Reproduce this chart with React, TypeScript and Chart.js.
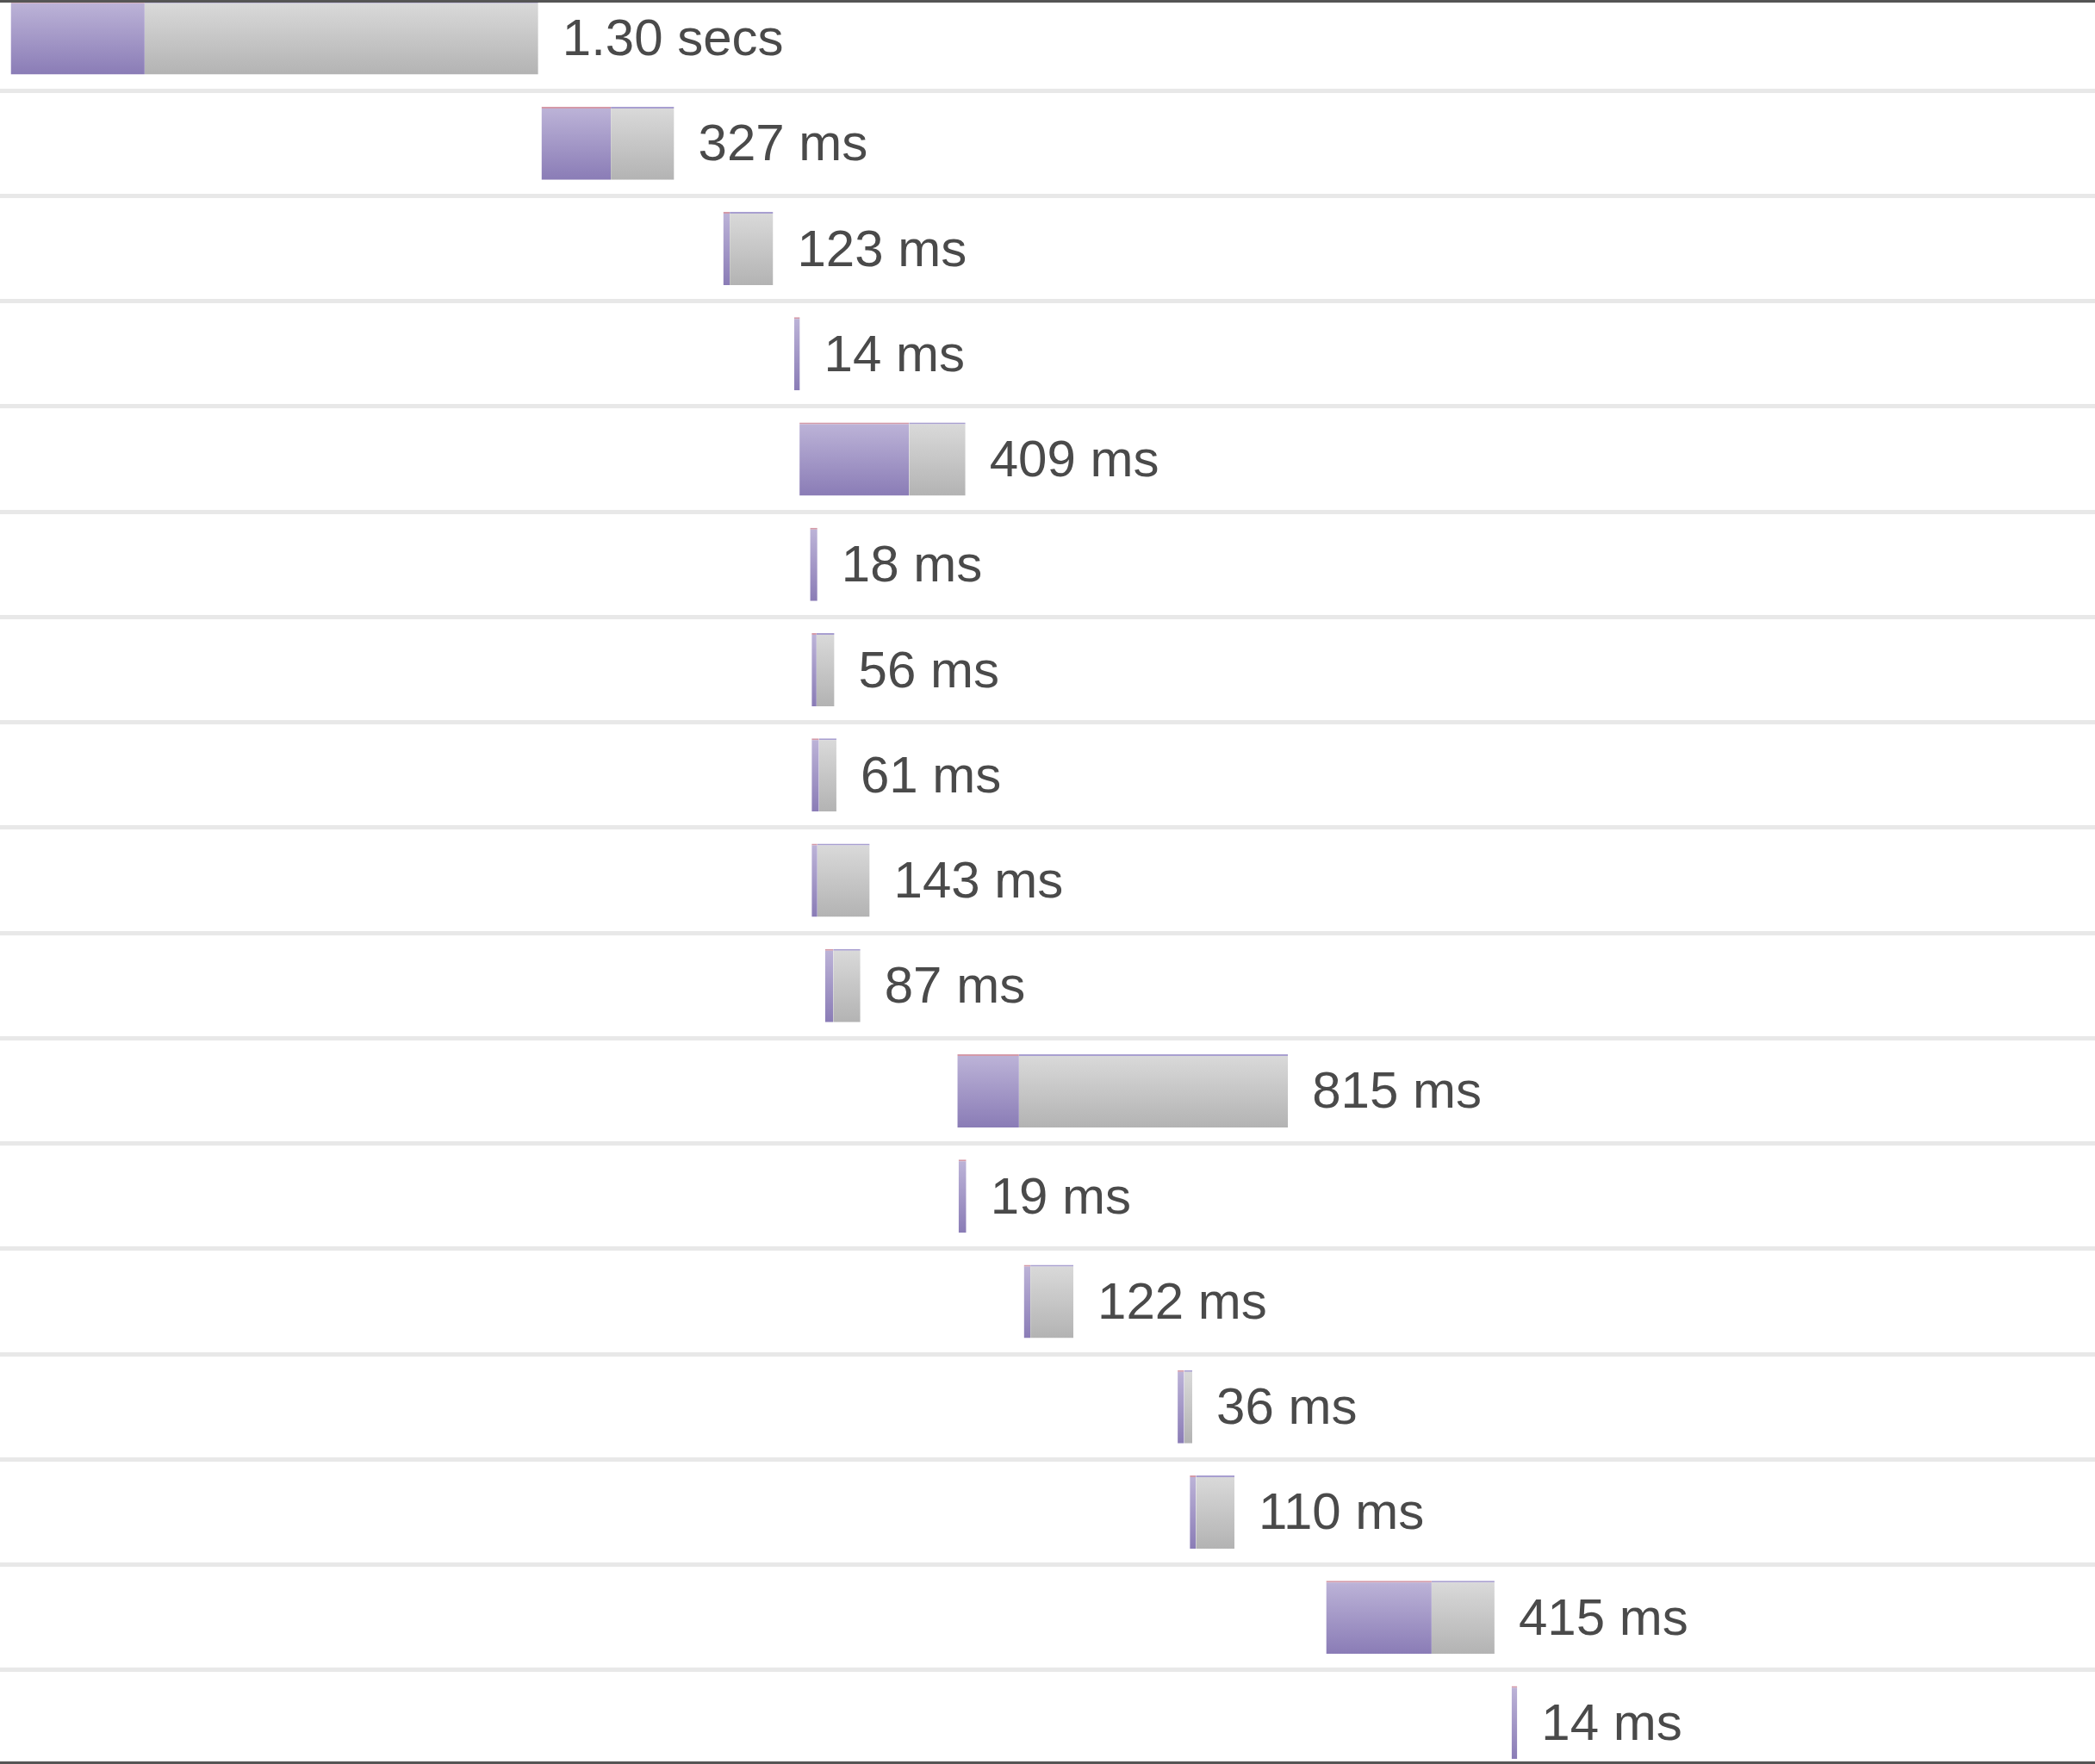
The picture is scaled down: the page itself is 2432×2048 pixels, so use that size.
import React, { useEffect, useRef } from "react";
import { Chart, registerables } from "chart.js";

Chart.register(...registerables);

// Waterfall rows (top to bottom)
const durationLabels = [
  "1.30 secs", "327 ms", "123 ms", "14 ms", "409 ms", "18 ms", "56 ms", "61 ms",
  "143 ms", "87 ms", "815 ms", "19 ms", "122 ms", "36 ms", "110 ms", "415 ms", "14 ms",
];
const startMs = [0, 1308, 1756, 1931, 1944, 1970, 1974, 1974, 1974, 2007, 2333, 2336, 2497, 2876, 2906, 3242, 3699];
const durationMs = [1300, 327, 123, 14, 409, 18, 56, 61, 143, 87, 815, 19, 122, 36, 110, 415, 14];
const waitMs = [330, 171, 16, 14, 270, 18, 12, 18, 14, 20, 152, 19, 16, 16, 15, 260, 14];

const rowIds = durationLabels.map((_, i) => `r${i + 1}`);
const X_MIN = -26.5;
const X_MAX = 5137;
const BAR_PCT = 0.695;

function vGradient(top: string, bottom: string) {
  return (ctx: any) => {
    const chart = ctx.chart;
    const ys = chart.scales && chart.scales.y;
    const area = chart.chartArea;
    if (!ys || !area || ctx.type !== "data") return bottom;
    const c = ys.getPixelForValue(ctx.dataIndex);
    const h = ((area.bottom - area.top) / rowIds.length) * BAR_PCT;
    const g = chart.ctx.createLinearGradient(0, c - h / 2, 0, c + h / 2);
    g.addColorStop(0, top);
    g.addColorStop(1, bottom);
    return g;
  };
}

const labelPlugin = {
  id: "durationLabels",
  afterDatasetsDraw(chart: any) {
    const { ctx } = chart;
    const xs = chart.scales.x;
    const ys = chart.scales.y;
    ctx.save();
    ctx.font = '60px "Liberation Sans", Arial, sans-serif';
    ctx.fillStyle = "#4a4a4a";
    ctx.textBaseline = "alphabetic";
    ctx.textAlign = "left";
    durationLabels.forEach((lab, i) => {
      const x = xs.getPixelForValue(startMs[i] + durationMs[i]) + 28;
      const y = ys.getPixelForValue(i) + 20;
      ctx.fillText(lab, x, y);
    });
    ctx.restore();
  },
};

export default function App() {
  const ref = useRef<HTMLCanvasElement | null>(null);

  useEffect(() => {
    if (!ref.current) return;
    const waitData = startMs.map((s, i) => [s, s + waitMs[i]]);
    const recvData = startMs.map((s, i) =>
      durationMs[i] > waitMs[i] ? [s + waitMs[i], s + durationMs[i]] : null
    );
    const chart = new Chart(ref.current, {
      type: "bar",
      data: {
        labels: rowIds,
        datasets: [
          {
            label: "wait",
            data: waitData as any,
            backgroundColor: vGradient("#bdb4d8", "#8a7cb6") as any,
            borderColor: "#d49aa8",
            borderWidth: { top: 2, left: 0, right: 0, bottom: 0 } as any,
            borderSkipped: false,
            grouped: false,
            barPercentage: BAR_PCT,
            categoryPercentage: 1,
            order: 1,
          } as any,
          {
            label: "receive",
            data: recvData as any,
            backgroundColor: vGradient("#dadada", "#b3b3b3") as any,
            borderColor: "#a89fd0",
            borderWidth: { top: 2, left: 0, right: 0, bottom: 0 } as any,
            borderSkipped: false,
            grouped: false,
            barPercentage: BAR_PCT,
            categoryPercentage: 1,
            order: 2,
          } as any,
        ],
      },
      options: {
        indexAxis: "y",
        responsive: false,
        animation: false,
        devicePixelRatio: 1,
        layout: { padding: 0 },
        plugins: {
          legend: { display: false },
          tooltip: { enabled: false },
          title: { display: false },
        },
        scales: {
          x: {
            type: "linear",
            min: X_MIN,
            max: X_MAX,
            display: false,
          },
          y: {
            type: "category",
            display: true,
            offset: true,
            ticks: { display: false },
            border: { display: false },
            grid: {
              offset: true,
              drawTicks: false,
              color: "#e8e8e8",
              lineWidth: 5,
            },
          },
        },
      } as any,
      plugins: [labelPlugin],
    });
    return () => chart.destroy();
  }, []);

  return (
    <div
      style={{
        position: "fixed",
        left: 0,
        top: 0,
        width: 2432,
        height: 2048,
        overflow: "hidden",
        background: "#ffffff",
      }}
    >
      <div style={{ position: "absolute", left: 0, top: -17, width: 2432, height: 2078 }}>
        <canvas ref={ref} width={2432} height={2078} style={{ display: "block" }} />
      </div>
      <div
        style={{ position: "absolute", left: 0, top: 0, width: 2432, height: 3, background: "#555555" }}
      />
      <div
        style={{ position: "absolute", left: 0, top: 2045, width: 2432, height: 3, background: "#555555" }}
      />
    </div>
  );
}
